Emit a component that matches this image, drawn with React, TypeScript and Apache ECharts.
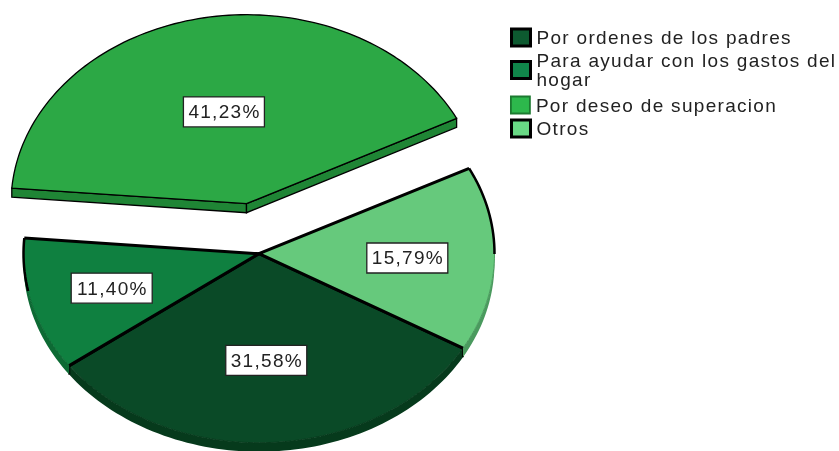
import React, { useEffect, useRef } from "react";
import * as echarts from "echarts";

const categories = ["Por ordenes de los padres", "Para ayudar con los gastos del hogar", "Por deseo de superacion", "Otros"];
const percentages = [31.58, 11.4, 41.23, 15.79];
const labels = ["31,58%", "11,40%", "41,23%", "15,79%"];
const topColors = ["#0a4a27", "#0f8040", "#2ca845", "#66c97c"];
const rimColors = ["#063a1c", "#0d6a34", "#1f8535", "#4a9a5e"];
const swatchColors = ["#0d5a30", "#10874a", "#2db84c", "#69d985"];
const explodedFlags = [false, false, true, false];
const labelRadii = [0.56, 0.65, 0.5, 0.63];
const blackArcLimits = [0, 38, 0, 5];
const legendTops = [27.5, 49, 95.5, 118.5];
const START_ANGLE = 30;

const CX = 259, CY = 253.7, RX = 235.5, RY = 189, DEPTH = 9;
const EXPLODE_X = -12.5, EXPLODE_Y = -50;

function pt(cx: number, cy: number, deg: number, f = 1): [number, number] {
  const t = (deg * Math.PI) / 180;
  return [cx + RX * f * Math.cos(t), cy + RY * f * Math.sin(t)];
}
function arcPoints(cx: number, cy: number, a0: number, a1: number) {
  const pts: [number, number][] = [];
  const n = Math.max(2, Math.ceil(Math.abs(a1 - a0) / 1.5));
  for (let i = 0; i <= n; i++) pts.push(pt(cx, cy, a0 + ((a1 - a0) * i) / n));
  return pts;
}

function sliceRenderer(index: number) {
  return (_params: any, api: any) => {
    const value = api.value(0);
    let a0 = START_ANGLE;
    for (let i = 0; i < index; i++) a0 += (percentages[i] / 100) * 360;
    const a1 = a0 + (value / 100) * 360;
    const ex = explodedFlags[index];
    const cx = CX + (ex ? EXPLODE_X : 0);
    const cy = CY + (ex ? EXPLODE_Y : 0);
    const children: any[] = [];
    const arc = arcPoints(cx, cy, a0, a1);
    const down = (p: [number, number]): [number, number] => [p[0], p[1] + DEPTH];
    if (ex) {
      const outline = { stroke: "#000", lineWidth: 1.3, fill: rimColors[index] };
      const c: [number, number] = [cx, cy];
      children.push({ type: "polygon", shape: { points: [arc[0], c, down(c), down(arc[0])] }, style: outline });
      const e = arc[arc.length - 1];
      children.push({ type: "polygon", shape: { points: [c, e, down(e), down(c)] }, style: outline });
      children.push({ type: "polygon", shape: { points: [c, ...arc] }, style: { fill: topColors[index], stroke: "#000", lineWidth: 1.3, lineJoin: "round" } });
    } else {
      const visible = arc.filter((p) => p[1] >= cy - 1);
      if (visible.length > 1) {
        const lower = [...visible, ...visible.slice().reverse().map(down)];
        children.push({ type: "polygon", shape: { points: lower }, style: { fill: rimColors[index] } });
      }
      children.push({ type: "polygon", shape: { points: [[cx, cy], ...arc] }, style: { fill: topColors[index] } });
      children.push({ type: "polyline", shape: { points: arc }, style: { stroke: rimColors[index], lineWidth: 1, fill: "none" } });
      if (blackArcLimits[index] > 0) {
        const upper = arc.filter((p) => p[1] <= cy + blackArcLimits[index]);
        children.push({ type: "polyline", shape: { points: upper }, style: { stroke: "#000", lineWidth: 2.5, fill: "none" } });
      }
      children.push({ type: "polyline", shape: { points: [arc[0], [cx, cy], arc[arc.length - 1]] }, style: { stroke: "#000", lineWidth: 3, fill: "none" } });
      if (index === 0) {
        for (const p of [arc[0], arc[arc.length - 1]]) {
          children.push({ type: "polyline", shape: { points: [p, down(p)] }, style: { stroke: "#000", lineWidth: 2, fill: "none" } });
        }
      }
    }
    const [lx, ly0] = pt(cx, cy, (a0 + a1) / 2, labelRadii[index]);
    const ly = ly0 + 1;
    children.push({
      type: "rect",
      shape: { x: lx - 40.5, y: ly - 15, width: 81, height: 30 },
      style: { fill: "#fff", stroke: "#222", lineWidth: 1.3 },
    });
    children.push({
      type: "text",
      style: { x: lx + 0.6, y: ly, text: labels[index], align: "center", verticalAlign: "middle", fill: "#222", font: "19px 'Liberation Sans'" },
    });
    return { type: "group", children };
  };
}

const drawOrder = [2, 0, 1, 3];

export default function App() {
  const ref = useRef<HTMLDivElement>(null);
  useEffect(() => {
    const chart = echarts.init(ref.current!, undefined, { renderer: "svg" });
    chart.setOption({
      animation: false,
      legend: categories.map((name, i) => ({
        left: 510,
        top: legendTops[i],
        padding: 0,
        orient: "vertical",
        itemWidth: 19,
        itemHeight: 17,
        selectedMode: false,
        textStyle: {
          fontFamily: "Liberation Sans",
          fontSize: 19,
          lineHeight: 19,
          color: "#222",
          padding: i === 1 ? [4, 0, 0, 1] : [0, 0, 0, 1],
        },
        formatter: (n: string) => n.replace("del hogar", "del\nhogar"),
        data: [
          {
            name,
            icon: "rect",
            itemStyle: { color: swatchColors[i], borderColor: i === 2 ? "#1c7a30" : "#000", borderWidth: i === 2 ? 1.8 : 3 },
          },
        ],
      })),
      series: drawOrder.map((i) => ({
        type: "custom",
        name: categories[i],
        coordinateSystem: "none",
        clip: false,
        itemStyle: { color: swatchColors[i] },
        renderItem: sliceRenderer(i),
        data: [[percentages[i]]],
      })),
    });
    return () => chart.dispose();
  }, []);
  return (
    <div
      ref={ref}
      style={{ position: "absolute", left: 0, top: 0, width: 839, height: 451, letterSpacing: "1.3px", filter: "blur(0.4px)" }}
    />
  );
}
